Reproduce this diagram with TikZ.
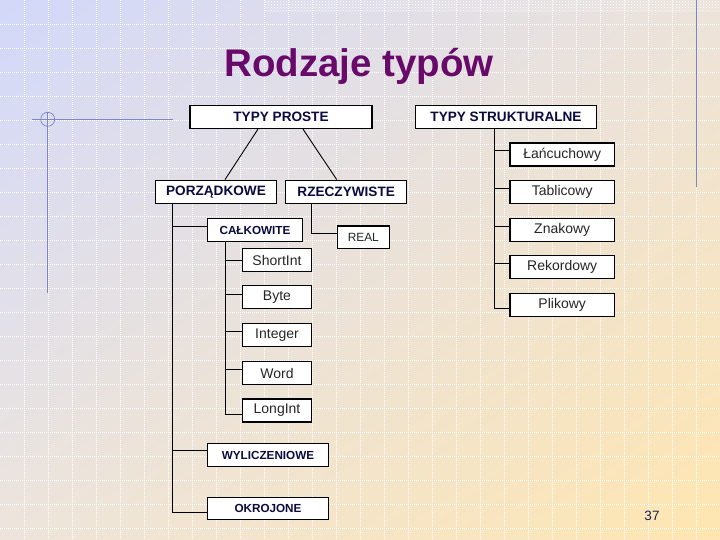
\documentclass[tikz,border=0pt]{standalone}
\usepackage{fontspec}
\setmainfont{Liberation Sans}
\usetikzlibrary{calc,patterns,shadings}
\definecolor{titlec}{HTML}{690A6B}
\definecolor{boldc}{HTML}{0A0A40}
\definecolor{plainc}{HTML}{262626}
\definecolor{decoc}{HTML}{7F86BF}
\definecolor{bgul}{HTML}{D2D8FA}
\definecolor{bgur}{HTML}{ECE3DA}
\definecolor{bgll}{HTML}{EDE5DC}
\definecolor{bglr}{HTML}{FFE6B0}
\tikzset{
  box/.style={draw=black, line width=1.2pt, fill=white, inner sep=0pt},
  headbox/.style={box, font=\fontsize{13.6}{14}\selectfont\bfseries, text=boldc, minimum height=23pt},
  subbox/.style={box, font=\fontsize{11.7}{12}\selectfont\bfseries, text=boldc, minimum height=23pt},
  leafbox/.style={box, font=\fontsize{14}{15}\selectfont, text=plainc, minimum height=23pt},
  link/.style={black, line width=0.9pt},
  gridln/.style={white, line width=0.9pt, dash pattern=on 1pt off 1pt},
  deco/.style={decoc, line width=0.9pt},
}
\newcommand{\slidebg}{%
  \shade[upper left=bgul, upper right=bgur, lower left=bgll, lower right=bglr] (0,0) rectangle (720,540);
  \fill[pattern=crosshatch dots, pattern color=white] (264,0) rectangle (720,13);
  \foreach \gx in {24,48,...,696} \draw[gridln] (\gx,0) -- (\gx,540);
  \foreach \gy in {24,48,...,528} \draw[gridln] (0,\gy) -- (720,\gy);}

\begin{document}
\begin{tikzpicture}[x=1pt,y=-1pt]
  \useasboundingbox (0,0) rectangle (720,540);
  \slidebg
  % slide decorations
  \draw[deco] (32,119.3) -- (173,119.3);
  \draw[deco] (47.7,111.7) -- (47.7,293);
  \draw[deco, line width=0.7pt] (47.7,119.3) circle (7pt);
  \draw[deco] (696,0) -- (696,187);
  \node[font=\fontsize{38.5}{40}\selectfont\bfseries, text=titlec, anchor=base] (title) at (359,76.7) {Rodzaje typów};
  % top level
  \node[headbox, minimum width=182pt] (proste) at (281,117) {TYPY PROSTE};
  \node[headbox, minimum width=181pt] (strukt) at (506,117) {TYPY STRUKTURALNE};
  \node[headbox, minimum width=121.7pt] (porz) at (216,191.7) {PORZĄDKOWE};
  \node[headbox, minimum width=121pt] (rzecz) at (346.2,191.7) {RZECZYWISTE};
  % ordinal types
  \node[subbox, minimum width=94.6pt] (calk) at (255,230) {CAŁKOWITE};
  \node[subbox, minimum width=121.4pt] (wylicz) at (268,455.3) {WYLICZENIOWE};
  \node[subbox, minimum width=121.4pt, minimum height=22pt] (okroj) at (268,508.3) {OKROJONE};
  \node[leafbox, font=\fontsize{11.9}{12}\selectfont, minimum width=52pt, minimum height=22.3pt] (real) at (363.3,237.2) {REAL};
  \foreach \n/\t/\y in {shortint/ShortInt/260, byte/Byte/297.2, integer/Integer/335, word/Word/373, longint/LongInt/410.5}
    \node[leafbox, minimum width=69.4pt] (\n) at (277,\y) {\t};
  % structured types
  \foreach \n/\t/\y in {lanc/Łańcuchowy/154.5, tabl/Tablicowy/192, znak/Znakowy/229.7, rekord/Rekordowy/267.2, plik/Plikowy/304.7}
    \node[leafbox, minimum width=104.3pt] (\n) at (562.2,\y) {\t};
  % connectors
  \draw[link] ([xshift=-23pt]proste.south) -- ([xshift=9pt]porz.north);
  \draw[link] ([xshift=22pt]proste.south) -- ([xshift=-9.5pt]rzecz.north);
  \coordinate (pspine) at ([xshift=18.3pt]porz.south west);
  \foreach \n/\s in {calk/4, wylicz/4.6, okroj/-4}
    \draw[link] (pspine) |- ([yshift=\s pt]\n.west);
  \coordinate (rspine) at ([xshift=26pt]rzecz.south west);
  \draw[link] (rspine) |- ([yshift=4pt]real.west);
  \coordinate (cspine) at ([xshift=18pt]calk.south west);
  \foreach \n/\s in {shortint/0, byte/3, integer/3.3, word/3.7, longint/-3.5}
    \draw[link] (cspine) |- ([yshift=\s pt]\n.west);
  \coordinate (sspine) at ([xshift=-12pt]strukt.south);
  \foreach \n/\s in {lanc/3.8, tabl/3.7, znak/3.7, rekord/3.9, plik/-3.6}
    \draw[link] (sspine) |- ([yshift=\s pt]\n.west);
  \node[font=\fontsize{13.5}{14}\selectfont, text=plainc!80!blue] (pagenum) at (652,516) {37};
\end{tikzpicture}
\end{document}
